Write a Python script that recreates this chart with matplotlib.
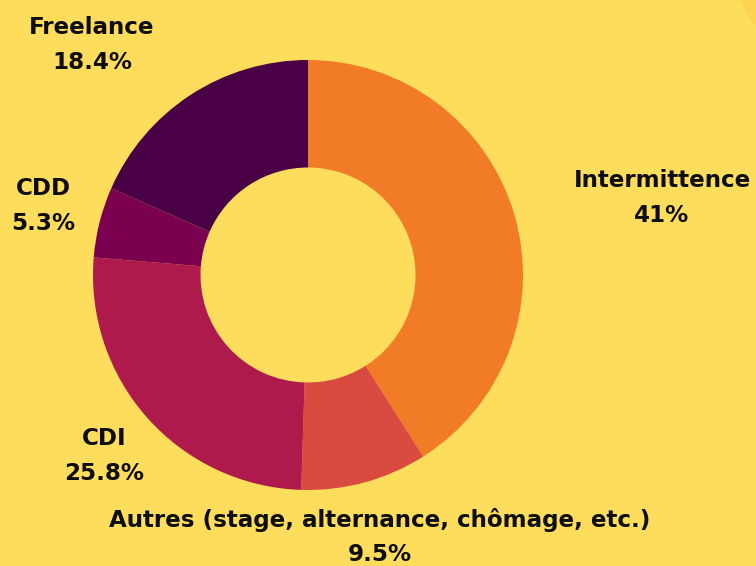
import matplotlib
matplotlib.use("Agg")
import matplotlib.pyplot as plt
from matplotlib.patches import Circle

categories = ["Intermittence", "Autres (stage, alternance, chômage, etc.)", "CDI", "CDD", "Freelance"]
values = [41, 9.5, 25.8, 5.3, 18.4]
value_labels = ["41%", "9.5%", "25.8%", "5.3%", "18.4%"]
colors = ["#F27B27", "#D94A40", "#AF1A4C", "#7C0050", "#4A0044"]
bg = "#FFDD5C"

W, H = 756, 566
fig = plt.figure(figsize=(W / 100, H / 100), dpi=100, facecolor=bg)

deco = fig.add_axes([0, 0, 1, 1], facecolor="none")
deco.set_xlim(0, W)
deco.set_ylim(H, 0)
deco.axis("off")
deco.add_patch(Circle((880, -60), 152, color="#FCD353", lw=0))

cx, cy, R = 308, 275, 215
ax = fig.add_axes([(cx - R) / W, 1 - (cy + R) / H, 2 * R / W, 2 * R / H], facecolor="none")
ax.pie(values, colors=colors, startangle=90, counterclock=False, radius=1,
       wedgeprops=dict(width=0.5, linewidth=0))
ax.set_xlim(-1, 1)
ax.set_ylim(-1, 1)
ax.set_aspect("equal")
ax.axis("off")

label_pos = [(662, 198), (380, 537), (104, 456), (43, 206), (92, 45)]
for cat, vl, (x, y) in zip(categories, value_labels, label_pos):
    deco.text(x, y, f"{cat}\n{vl}", ha="center", va="center", fontsize=16.6,
              fontweight="bold", family="DejaVu Sans", color="#0D0D0D", linespacing=1.62)

fig.savefig("out.png", dpi=100, facecolor=bg)
